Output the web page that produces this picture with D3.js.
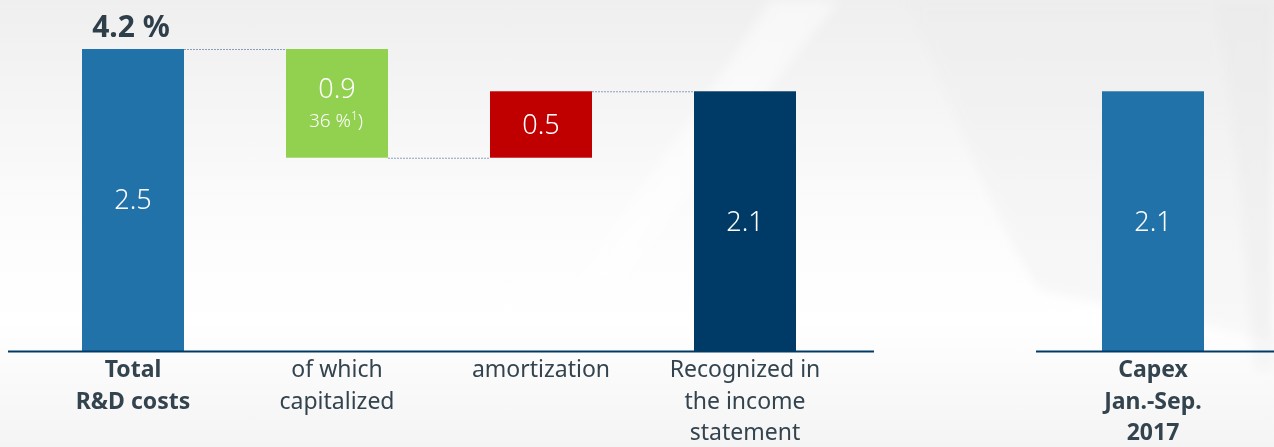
<!DOCTYPE html>
<html>
<head>
<meta charset="utf-8">
<script src="https://cdn.jsdelivr.net/npm/d3@7"></script>
<style>
  html, body { margin: 0; padding: 0; background: #f6f6f6; }
  svg { display: block; }
</style>
</head>
<body>
<svg id="chart" width="1274" height="447"></svg>
<script>
// categories (one empty slot between the bridge and the capex bar)
const categories = ["total", "capitalized", "amortization", "recognized", "gap", "capex"];
const categoryLines = [
  ["Total", "R&D costs"],
  ["of which", "capitalized"],
  ["amortization"],
  ["Recognized in", "the income", "statement"],
  [],
  ["Capex", "Jan.-Sep.", "2017"]
];
const boldCategories = ["total", "capex"];

// bar extents (start, end) in bn
const barStart = [0, 1.60, 1.60, 0, null, 0];
const barEnd = [2.50, 2.50, 2.15, 2.15, null, 2.15];
const barLabels = ["2.5", "0.9", "0.5", "2.1", "", "2.1"];
const barSubLabels = ["", "36 %", "", "", "", ""];
const barColors = ["#2272aa", "#92d050", "#c00000", "#003a66", null, "#2272aa"];

const headline = "4.2 %";

const svg = d3.select("#chart");
const W = 1274, H = 447;

// background
const defs = svg.append("defs");
const bg = defs.append("linearGradient").attr("id", "bg")
  .attr("x1", 0).attr("y1", 0).attr("x2", 0).attr("y2", 1);
bg.append("stop").attr("offset", "0%").attr("stop-color", "#efefef");
bg.append("stop").attr("offset", "45%").attr("stop-color", "#fbfbfb");
bg.append("stop").attr("offset", "72%").attr("stop-color", "#ffffff");
bg.append("stop").attr("offset", "100%").attr("stop-color", "#f4f4f4");
svg.append("rect").attr("width", W).attr("height", H).attr("fill", "url(#bg)");

defs.append("filter").attr("id", "soft")
  .attr("x", "-20%").attr("y", "-20%").attr("width", "140%").attr("height", "140%")
  .append("feGaussianBlur").attr("stdDeviation", 6);

// soft swooshes
const swoosh = svg.append("g").attr("filter", "url(#soft)");
swoosh.append("path")
  .attr("d", "M770,0 C700,110 630,200 570,290 L620,290 C690,190 760,100 840,0 Z")
  .attr("fill", "#ffffff").attr("opacity", 0.5);
swoosh.append("path")
  .attr("d", "M910,0 C955,110 990,210 1040,290 L1274,340 L1274,0 Z")
  .attr("fill", "#ececec").attr("opacity", 0.35);
swoosh.append("path")
  .attr("d", "M1215,0 L1274,0 L1274,370 L1255,370 C1245,250 1235,120 1215,0 Z")
  .attr("fill", "#e8e8e8").attr("opacity", 0.35);

const x = d3.scaleBand()
  .domain(categories)
  .range([31, 1255])
  .paddingInner(0.5)
  .paddingOuter(0.25);

const y = d3.scaleLinear()
  .domain([0, 2.5])
  .range([351, 49]);

const data = categories.map((c, i) => ({
  cat: c, start: barStart[i], end: barEnd[i], label: barLabels[i],
  sub: barSubLabels[i], color: barColors[i], lines: categoryLines[i]
}));
const bars = data.filter(d => d.color);

// dotted connectors between bridge bars
const connectors = [];
for (let i = 0; i < 3; i++) {
  const a = data[i], b = data[i + 1];
  // level shared by the two bars
  const level = i === 1 ? a.start : a.end;
  connectors.push({ x1: x(a.cat) + x.bandwidth(), x2: x(b.cat), y: y(level) });
}
svg.append("g").selectAll("line").data(connectors).enter().append("line")
  .attr("x1", d => d.x1)
  .attr("x2", d => d.x2)
  .attr("y1", d => d.y + 0.5)
  .attr("y2", d => d.y + 0.5)
  .attr("stroke", "#8aa0b8")
  .attr("stroke-width", 1)
  .attr("stroke-dasharray", "2,1");

// bars
svg.append("g").selectAll("rect").data(bars).enter().append("rect")
  .attr("x", d => x(d.cat))
  .attr("y", d => y(d.end))
  .attr("width", x.bandwidth())
  .attr("height", d => y(d.start) - y(d.end))
  .attr("fill", d => d.color);

// axis baseline in two pieces
const axisSegments = [[8, 874], [1036, 1274]];
svg.append("g").selectAll("line").data(axisSegments).enter().append("line")
  .attr("x1", d => d[0]).attr("x2", d => d[1])
  .attr("y1", 351.5).attr("y2", 351.5)
  .attr("stroke", "#003a66")
  .attr("stroke-width", 2);

const font = "'Noto Sans', 'Open Sans', sans-serif";

// value labels
svg.append("g").selectAll("text").data(bars).enter().append("text")
  .attr("x", d => x(d.cat) + x.bandwidth() / 2)
  .attr("y", d => {
    const mid = (y(d.start) + y(d.end)) / 2;
    return d.sub ? mid - 15 : mid;
  })
  .attr("dy", "0.35em")
  .attr("text-anchor", "middle")
  .attr("font-family", font)
  .attr("font-size", 27)
  .attr("font-weight", 300)
  .attr("fill", "#ffffff")
  .text(d => d.label);

// sub label with footnote mark
const subs = svg.append("g").selectAll("text").data(bars.filter(d => d.sub)).enter().append("text")
  .attr("x", d => x(d.cat) + x.bandwidth() / 2 - 1)
  .attr("y", d => (y(d.start) + y(d.end)) / 2 + 17)
  .attr("dy", "0.35em")
  .attr("text-anchor", "middle")
  .attr("font-family", font)
  .attr("font-size", 19)
  .attr("font-weight", 300)
  .attr("fill", "#ffffff");
subs.append("tspan").text(d => d.sub);
subs.append("tspan").attr("font-size", 12).attr("dy", "-0.55em").text("1");
subs.append("tspan").attr("dy", "0.35em").text(")");

// headline above total bar
svg.append("text")
  .attr("x", x("total") + x.bandwidth() / 2 - 2)
  .attr("y", 37)
  .attr("text-anchor", "middle")
  .attr("font-family", font)
  .attr("font-size", 30)
  .attr("font-weight", "bold")
  .attr("fill", "#2e3f4a")
  .text(headline);

// category labels
const cats = svg.append("g").selectAll("text").data(data.filter(d => d.lines.length)).enter().append("text")
  .attr("text-anchor", "middle")
  .attr("font-family", font)
  .attr("font-size", 23)
  .attr("font-weight", d => boldCategories.includes(d.cat) ? "bold" : "normal")
  .attr("fill", "#34444f");
cats.each(function (d) {
  const t = d3.select(this);
  d.lines.forEach((line, i) => {
    t.append("tspan")
      .attr("x", x(d.cat) + x.bandwidth() / 2)
      .attr("y", 377 + i * 31.5)
      .text(line);
  });
});
</script>
</body>
</html>
